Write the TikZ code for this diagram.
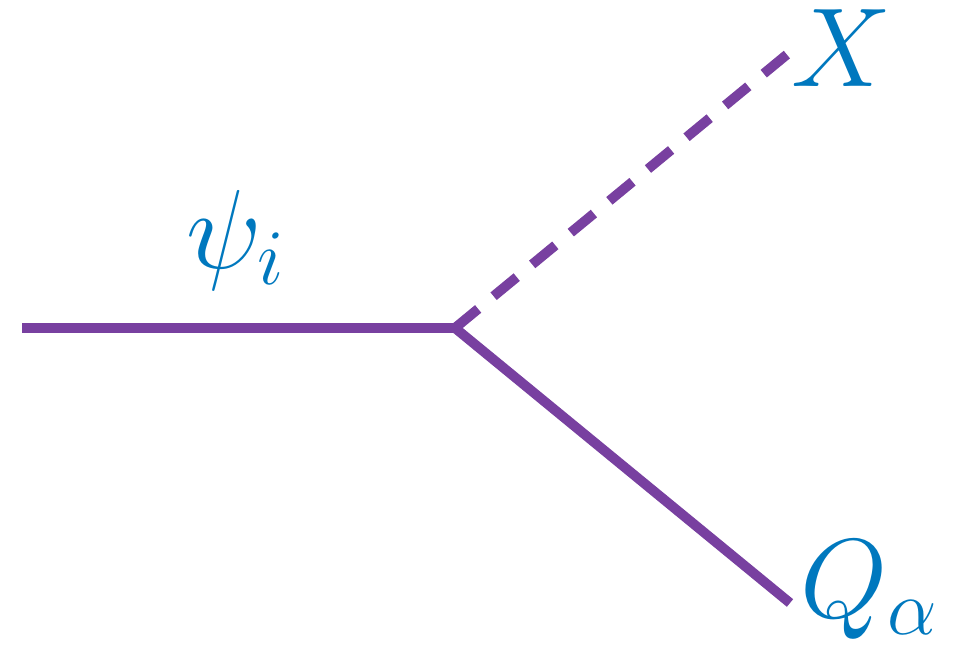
\RequirePackage{fix-cm}
\documentclass[tikz,border=0pt]{standalone}
\usetikzlibrary{positioning}
\definecolor{lineviolet}{RGB}{120,64,160}
\definecolor{labelblue}{RGB}{0,120,190}
\tikzset{
  prop/.style={draw=lineviolet, line width=2.8pt},
  dprop/.style={prop, dash pattern=on 0.3cm off 0.2cm},
  lbl/.style={text=labelblue, font=\fontsize{32}{37}\selectfont, inner sep=0pt},
}

\begin{document}
\begin{tikzpicture}
\useasboundingbox (0,0) rectangle (9.55,6.52);
\coordinate (in) at (0.22,3.24);
\coordinate (vx) at (4.55,3.24);
\coordinate (xend) at (7.90,6.00);
\coordinate (qend) at (7.90,0.49);
\draw[prop] (in) -- (vx);
\draw[dprop] (vx) -- (xend);
\draw[prop] (vx) -- (qend);
\node[lbl] (psi) at (2.36,4.12) {$\psi_i$};
\node[lbl] (xlab) at (8.42,6.04) {$X$};
\node[lbl] (qlab) at (8.70,0.62) {$Q_\alpha$};
\end{tikzpicture}
\end{document}
